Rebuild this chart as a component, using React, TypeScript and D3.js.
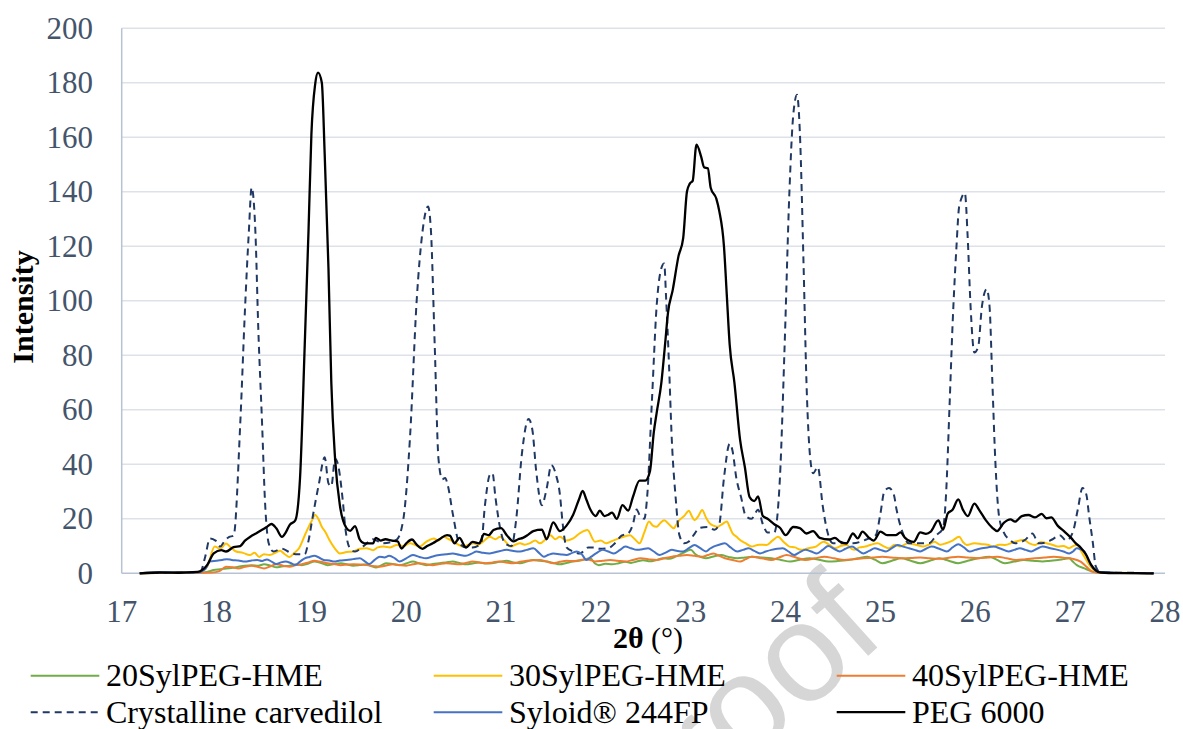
import React from 'react';
import * as d3 from 'd3';

// 2θ (°) vs intensity
const xTicks = [17, 18, 19, 20, 21, 22, 23, 24, 25, 26, 27, 28];
const yTicks = [0, 20, 40, 60, 80, 100, 120, 140, 160, 180, 200];

const syl20: [number, number][] = [
  [17.19,0],[17.5,0.2],[17.8,0.2],[17.9,0.5],[17.97,1.2],[18.04,1.5],[18.1,1.8],[18.17,2],[18.23,2.4],[18.3,2.8],[18.37,3],[18.44,2.8],[18.5,3.3],[18.57,2.8],[18.63,2.2],[18.7,2.6],[18.77,2.8],[18.84,3.2],[18.9,3],[18.97,3.6],[19.03,4.3],[19.1,3.8],[19.17,3],[19.24,3.4],[19.31,3.7],[19.38,3.2],[19.44,2.8],[19.51,3],[19.58,3.3],[19.63,2.7],[19.68,2.1],[19.74,3],[19.79,3.7],[19.86,3.4],[19.93,3],[20.0,3.6],[20.07,4.3],[20.14,3.6],[20.21,3],[20.28,3.4],[20.35,3.7],[20.42,4],[20.49,4.3],[20.56,3.8],[20.63,3.3],[20.7,3.6],[20.77,4],[20.84,3.6],[20.9,3.7],[20.98,4.2],[21.06,4.6],[21.13,4],[21.2,3.7],[21.27,4.3],[21.34,4.9],[21.41,4.6],[21.48,4.3],[21.55,3.8],[21.62,3.3],[21.69,3.8],[21.76,4.3],[21.85,4.8],[21.94,5.5],[21.99,3.6],[22.03,3],[22.1,3.5],[22.17,3.3],[22.24,3.7],[22.31,4.2],[22.37,3.8],[22.43,4.3],[22.5,4.8],[22.57,4.4],[22.64,4.9],[22.71,5.5],[22.77,5.3],[22.84,6.1],[22.92,7.5],[23.0,8.6],[23.05,7],[23.1,6],[23.16,5.5],[23.24,6.2],[23.32,6.7],[23.4,6],[23.49,5.5],[23.57,5.8],[23.65,6.1],[23.75,5.8],[23.85,5.5],[23.95,4.9],[24.05,4.3],[24.15,5],[24.25,5.5],[24.35,5],[24.45,4.3],[24.55,4.5],[24.66,4.9],[24.76,5.5],[24.86,6.1],[24.94,5],[25.02,3.7],[25.12,4.6],[25.22,5.5],[25.32,4.6],[25.42,3.7],[25.52,4.6],[25.62,5.5],[25.72,4.6],[25.82,3.7],[25.92,4.6],[26.03,5.5],[26.15,6.1],[26.23,4.9],[26.31,3.7],[26.41,4.3],[26.51,4.9],[26.61,4.6],[26.71,4.3],[26.79,4.6],[26.87,4.9],[26.93,5.2],[26.99,5.5],[27.03,4.2],[27.07,3],[27.15,1.8],[27.23,0.7],[27.3,0.2],[27.5,0.1],[27.88,0]
];

const syl30: [number, number][] = [
  [17.19,0],[17.5,0.3],[17.8,0.4],[17.9,2.4],[17.98,9.8],[18.04,9],[18.1,10.9],[18.15,9.5],[18.2,8.1],[18.28,7.5],[18.35,6.7],[18.4,7.5],[18.45,6],[18.5,7],[18.56,6.7],[18.62,7.5],[18.67,8.3],[18.72,7],[18.77,6],[18.82,7.5],[18.87,9.2],[18.94,14.7],[19.0,19],[19.04,21.4],[19.08,19.5],[19.11,17.1],[19.15,15],[19.19,12.2],[19.25,9],[19.3,7.3],[19.37,7.8],[19.44,8],[19.51,9],[19.58,9.2],[19.65,8.5],[19.7,9.5],[19.76,9.8],[19.83,9.5],[19.9,10.4],[19.97,10],[20.04,11],[20.09,10.5],[20.14,9.8],[20.21,11.5],[20.29,12.8],[20.34,12],[20.39,13.4],[20.45,12.5],[20.5,11.6],[20.55,10.5],[20.6,9.8],[20.66,10.5],[20.71,11],[20.76,10.5],[20.81,11.6],[20.88,13.4],[20.94,12.5],[20.99,13.4],[21.05,11.5],[21.1,9.8],[21.15,10.5],[21.2,11],[21.25,10.5],[21.3,11],[21.36,12],[21.41,11],[21.47,12.5],[21.52,14],[21.57,12.5],[21.62,13.4],[21.69,12],[21.76,12.8],[21.83,14.7],[21.91,15.9],[21.99,11.6],[22.05,12],[22.11,11],[22.18,12],[22.24,12.8],[22.3,13.5],[22.36,14],[22.41,12.5],[22.46,11],[22.51,15],[22.56,19],[22.6,17.5],[22.64,17.1],[22.68,18.5],[22.72,19.5],[22.77,18],[22.82,16.5],[22.85,18],[22.88,19.5],[22.93,21],[22.98,23],[23.01,21],[23.04,19.5],[23.08,21],[23.12,23.2],[23.16,20.5],[23.2,18.3],[23.24,17.5],[23.28,17.1],[23.33,18],[23.38,19],[23.41,17],[23.44,14.7],[23.48,13.5],[23.52,12.2],[23.58,11],[23.64,9.8],[23.72,10.5],[23.8,10.4],[23.86,12],[23.92,13.4],[23.98,11.5],[24.04,9.8],[24.1,9.5],[24.16,8.6],[24.24,9.2],[24.32,9.8],[24.4,11.6],[24.46,10.5],[24.52,9.2],[24.58,10],[24.64,10.4],[24.72,8.6],[24.78,9.5],[24.84,9.8],[24.9,10.5],[24.97,11],[25.03,10],[25.09,9.2],[25.15,10.5],[25.21,9.8],[25.29,11],[25.37,10.5],[25.45,9.8],[25.51,10.5],[25.57,11.6],[25.63,10.5],[25.69,11],[25.76,12],[25.83,13.4],[25.87,11.5],[25.91,10.4],[25.99,11],[26.07,10.7],[26.13,10.5],[26.19,9.8],[26.25,10.5],[26.31,10.4],[26.41,11.5],[26.51,12.2],[26.57,11],[26.63,10.4],[26.69,11.5],[26.75,11],[26.81,10.5],[26.87,9.8],[26.93,10],[26.99,9.2],[27.03,10],[27.07,10.4],[27.11,8.5],[27.15,6.1],[27.23,1.8],[27.29,0.4],[27.5,0.2],[27.88,0]
];

const syl40: [number, number][] = [
  [17.19,0],[17.5,0.2],[17.8,0.2],[17.95,0.3],[18.03,0.8],[18.1,2.4],[18.17,2.2],[18.23,1.8],[18.3,2.4],[18.37,2.8],[18.44,2.3],[18.5,1.8],[18.57,2.6],[18.63,3.3],[18.7,2.8],[18.77,2.4],[18.84,3],[18.9,3.3],[18.97,4],[19.03,4.6],[19.1,4.2],[19.17,3.7],[19.24,3.4],[19.31,3],[19.38,3.2],[19.44,3.3],[19.51,3.2],[19.58,3],[19.65,2.7],[19.72,2.4],[19.79,2.9],[19.86,3.3],[19.93,3],[20.0,2.8],[20.07,3.3],[20.14,3.7],[20.21,3.3],[20.28,3],[20.35,3.4],[20.42,3.7],[20.49,3.5],[20.56,3.3],[20.63,3.8],[20.7,4.3],[20.77,4],[20.84,3.7],[20.91,4],[20.98,4.3],[21.05,4],[21.13,3.7],[21.2,4.2],[21.27,4.6],[21.34,4.8],[21.41,4.9],[21.48,4.3],[21.55,3.7],[21.62,4.2],[21.69,4.6],[21.76,4.5],[21.83,4.8],[21.9,5.2],[21.94,4.9],[21.99,4.3],[22.07,4.6],[22.15,4.9],[22.23,4.6],[22.31,4.3],[22.39,4.9],[22.47,5.5],[22.55,5.2],[22.64,4.9],[22.72,5.5],[22.8,6.1],[22.88,6.4],[22.96,6.7],[23.04,6.4],[23.12,6.1],[23.18,6.7],[23.24,7.3],[23.3,6.4],[23.36,5.5],[23.44,4.9],[23.52,4.3],[23.58,5.2],[23.64,6.1],[23.75,5.5],[23.85,4.9],[23.93,5.8],[24.01,6.7],[24.11,5.8],[24.21,4.9],[24.31,5.5],[24.41,6.1],[24.51,5.5],[24.62,4.9],[24.72,5.2],[24.82,5.5],[24.92,5.8],[25.02,6.1],[25.12,5.8],[25.22,5.5],[25.32,5.6],[25.42,5.8],[25.52,5.5],[25.62,5.3],[25.72,5.7],[25.82,6.1],[25.92,5.8],[26.03,5.5],[26.13,5.8],[26.23,6.1],[26.33,5.5],[26.43,4.9],[26.53,5.2],[26.63,5.5],[26.73,5.8],[26.83,6.1],[26.93,5.7],[27.03,5.3],[27.11,4.3],[27.17,2.5],[27.23,0.6],[27.3,0.2],[27.5,0.1],[27.88,0]
];

const carvedilol: [number, number][] = [
  [17.19,0],[17.4,0.2],[17.6,0.3],[17.75,0.3],[17.83,0.6],[17.88,6],[17.93,12.8],[17.99,12],[18.04,9.8],[18.08,11.6],[18.13,13.3],[18.18,13.8],[18.25,55],[18.3,97],[18.34,125],[18.37,141.6],[18.41,125],[18.44,90],[18.48,55],[18.51,27],[18.55,11],[18.6,8],[18.69,9],[18.78,7.5],[18.85,7],[18.93,7],[18.97,12],[19.01,20],[19.08,33],[19.14,42.6],[19.18,33],[19.21,32],[19.25,42],[19.28,40],[19.33,27],[19.36,16],[19.41,9],[19.46,8],[19.55,10],[19.65,12.5],[19.75,11],[19.9,12.4],[19.97,20],[20.04,50],[20.11,100],[20.17,125],[20.23,134.6],[20.26,126],[20.3,84],[20.34,42],[20.38,34.5],[20.41,35],[20.44,32],[20.49,22],[20.56,11],[20.63,9.5],[20.7,9.5],[20.79,11],[20.83,25],[20.88,36],[20.91,36.7],[20.94,28],[20.99,16.6],[21.04,11],[21.11,10],[21.16,20],[21.22,44],[21.29,56.6],[21.33,52.6],[21.37,37.6],[21.43,25],[21.48,31],[21.53,39.7],[21.58,36],[21.62,29],[21.65,18],[21.69,9.5],[21.76,8],[21.83,7.3],[21.92,9.5],[21.99,9.5],[22.04,9],[22.13,9.2],[22.2,11],[22.27,13.8],[22.34,14.6],[22.39,18],[22.43,23.4],[22.46,21.4],[22.51,20],[22.54,28],[22.59,63],[22.64,98],[22.69,112],[22.72,113.7],[22.74,101],[22.77,77],[22.8,49],[22.84,28],[22.88,14],[22.93,11],[22.98,11.7],[23.03,14],[23.09,16.6],[23.18,17],[23.25,16],[23.3,18],[23.35,35],[23.41,47.5],[23.44,45],[23.48,35],[23.53,28],[23.58,21],[23.64,20],[23.71,23.3],[23.76,18],[23.81,15],[23.88,15],[23.94,35],[23.99,84],[24.04,140],[24.08,168],[24.12,175.6],[24.15,162],[24.19,112],[24.22,70],[24.26,42],[24.29,36.7],[24.34,39],[24.39,25],[24.44,15.3],[24.5,11],[24.6,11],[24.71,11],[24.85,12.4],[24.95,14],[25.0,22],[25.04,30],[25.09,31.3],[25.14,29],[25.17,23.3],[25.23,15.3],[25.3,11],[25.4,11],[25.51,11],[25.59,14],[25.66,16.6],[25.69,28],[25.73,63],[25.76,91],[25.8,119],[25.83,134.6],[25.89,139.5],[25.92,123],[25.95,98],[25.99,81],[26.03,83],[26.07,98],[26.12,104.3],[26.15,98],[26.18,70],[26.21,42],[26.25,21],[26.3,15],[26.36,12.4],[26.42,11],[26.53,12.4],[26.6,14.6],[26.67,11],[26.74,11.3],[26.81,12.4],[26.89,14],[26.96,12],[27.03,15.3],[27.08,23.3],[27.13,31.3],[27.17,29],[27.2,21],[27.24,11],[27.27,2.5],[27.32,0.3],[27.6,0.2],[27.88,0]
];

const syloid: [number, number][] = [
  [17.19,0],[17.4,0.4],[17.6,0.3],[17.8,0.3],[17.88,1.5],[17.93,4.3],[18.0,4.6],[18.06,4.9],[18.11,5.2],[18.16,4.9],[18.23,4.7],[18.3,4.3],[18.37,4.7],[18.43,4.9],[18.48,4.5],[18.53,5.1],[18.58,4.3],[18.63,3.4],[18.68,4],[18.73,4.3],[18.78,3.8],[18.83,3.1],[18.88,4.3],[18.93,5.5],[18.98,6],[19.03,6.4],[19.08,5.8],[19.13,4.9],[19.19,4.7],[19.24,4.3],[19.3,4.7],[19.37,4.9],[19.44,5.2],[19.51,5.5],[19.56,4.5],[19.61,3.4],[19.67,5],[19.72,6.1],[19.77,5.8],[19.82,6.4],[19.88,5.5],[19.93,4.3],[20.0,5.5],[20.07,6.7],[20.14,6],[20.21,5.5],[20.28,6.2],[20.35,6.7],[20.42,7],[20.49,7.3],[20.56,6.8],[20.63,6.4],[20.69,7.2],[20.74,8],[20.81,7.5],[20.88,7.3],[20.97,8],[21.06,8.6],[21.13,8.2],[21.2,8],[21.27,8.6],[21.34,9.2],[21.4,7.5],[21.45,6.1],[21.5,6.8],[21.55,7.3],[21.62,7],[21.69,6.7],[21.75,7.5],[21.8,8],[21.85,7],[21.9,4.9],[21.95,6.1],[22.01,7.5],[22.07,8.6],[22.13,8],[22.19,7.3],[22.25,8.5],[22.31,9.8],[22.37,9.2],[22.43,8.6],[22.49,8.8],[22.55,9.2],[22.61,8],[22.67,6.7],[22.73,7.5],[22.8,8.6],[22.86,8.2],[22.92,8],[22.98,9.2],[23.04,10.4],[23.1,9.2],[23.16,8],[23.2,9],[23.24,9.8],[23.3,10.5],[23.36,11],[23.42,9.5],[23.49,8],[23.55,8.6],[23.61,9.2],[23.67,8.2],[23.73,7.3],[23.79,8],[23.85,8.6],[23.91,9],[23.97,9.2],[24.03,8],[24.09,6.7],[24.15,7.8],[24.21,8.6],[24.27,8],[24.33,7.3],[24.39,8.6],[24.45,10],[24.51,9],[24.57,8],[24.63,9],[24.7,9.8],[24.76,8.5],[24.82,7.3],[24.88,8.2],[24.94,9.2],[25.0,8.6],[25.06,8],[25.12,9.2],[25.18,10.4],[25.24,9.8],[25.3,9.2],[25.36,8.6],[25.42,8],[25.48,9],[25.54,9.8],[25.62,9],[25.7,8],[25.76,9.5],[25.82,10.7],[25.88,9.5],[25.94,8],[26.0,8.6],[26.07,9.2],[26.13,9.5],[26.19,9.8],[26.27,9],[26.35,8],[26.41,8.6],[26.47,9.2],[26.53,8.6],[26.59,8],[26.65,9],[26.71,9.8],[26.79,9.2],[26.87,8.6],[26.93,8],[26.99,7.3],[27.03,8],[27.07,9.2],[27.11,8.8],[27.15,8],[27.19,5],[27.23,2.4],[27.29,0.6],[27.5,0.2],[27.88,0]
];

const peg6000: [number, number][] = [
  [17.19,0],[17.4,0.3],[17.6,0.2],[17.8,0.5],[17.9,3],[17.97,7.3],[18.05,8.5],[18.1,8],[18.18,9.6],[18.25,10],[18.3,12],[18.36,13.5],[18.42,14.7],[18.48,16],[18.53,17],[18.58,18.1],[18.63,16.5],[18.69,13.4],[18.73,15],[18.77,17.7],[18.83,19.4],[18.88,34.8],[18.93,84],[18.97,126],[19.0,161],[19.04,179.5],[19.07,183.7],[19.11,180],[19.14,154],[19.18,112],[19.21,70],[19.25,42],[19.3,25],[19.37,16.6],[19.41,15.6],[19.46,17.3],[19.51,12.4],[19.56,11],[19.65,11],[19.68,13],[19.73,12],[19.78,12.5],[19.85,12],[19.91,11.7],[19.95,9.1],[20.0,11],[20.06,12.4],[20.11,10.5],[20.17,9],[20.22,10],[20.28,11],[20.35,12.5],[20.43,14],[20.46,13.8],[20.51,11],[20.56,13],[20.63,9.5],[20.7,11.5],[20.77,11],[20.82,14.5],[20.87,14],[20.92,15.9],[21.0,16.6],[21.06,14],[21.13,11.7],[21.18,12.5],[21.23,13],[21.28,14],[21.34,15.5],[21.43,16],[21.48,12.5],[21.55,18.7],[21.62,15.5],[21.69,17.5],[21.76,21.5],[21.82,27],[21.86,30.2],[21.9,27],[21.94,23.5],[22.0,21],[22.04,23],[22.09,21],[22.13,21.5],[22.17,22.3],[22.22,20],[22.28,25],[22.34,23],[22.39,28],[22.46,34],[22.52,34],[22.57,37.5],[22.61,51.7],[22.64,58.8],[22.69,70],[22.73,84.4],[22.76,95.7],[22.81,104],[22.87,116.3],[22.92,123],[22.96,140.1],[22.99,143],[23.02,144],[23.06,157.3],[23.11,152.8],[23.14,149],[23.18,148.6],[23.21,141.5],[23.27,137.4],[23.3,133],[23.35,120],[23.38,102],[23.41,84],[23.46,70],[23.52,49],[23.57,39],[23.62,28],[23.67,26.5],[23.71,28.2],[23.76,21],[23.81,20],[23.88,18],[23.94,16.7],[24.0,14],[24.08,17],[24.15,16.6],[24.22,14.6],[24.29,15.5],[24.36,13],[24.46,12.4],[24.52,13],[24.57,11.7],[24.64,11],[24.71,14.6],[24.76,12.8],[24.81,15.3],[24.88,13],[24.93,12],[25.0,15.3],[25.07,14],[25.16,14],[25.21,15],[25.26,13],[25.35,11.5],[25.42,15],[25.48,14.5],[25.53,15.3],[25.61,19.4],[25.66,16],[25.71,22],[25.76,23.3],[25.82,27.1],[25.87,23.3],[25.92,21],[25.99,25.6],[26.04,23.3],[26.11,19.5],[26.18,16.7],[26.23,15.5],[26.3,18.5],[26.37,19.8],[26.42,19],[26.49,21],[26.56,21.4],[26.63,20.5],[26.7,21.8],[26.75,20.2],[26.8,20.5],[26.87,17.4],[26.94,15.3],[27.01,13],[27.06,11],[27.11,9.5],[27.17,6.7],[27.22,3.2],[27.27,1.1],[27.32,0.3],[27.5,0.1],[27.7,0.1],[27.88,0]
];

const seriesNames = ['20SylPEG-HME', '30SylPEG-HME', '40SylPEG-HME', 'Crystalline carvedilol', 'Syloid® 244FP', 'PEG 6000'];
const seriesData = [syl20, syl30, syl40, carvedilol, syloid, peg6000];
const seriesColors = ['#70AD47', '#FFC000', '#ED7D31', '#203864', '#4472C4', '#000000'];

const W = 1183;
const H = 729;
const left = 121.7, right = 1165, top = 28.3, bottom = 573.3;
const serif = '"Liberation Serif", "Times New Roman", serif';

export default function App() {
  const x = d3.scaleLinear().domain([17, 28]).range([left, right]);
  const y = d3.scaleLinear().domain([0, 200]).range([bottom, top]);
  const line = d3.line<[number, number]>()
    .x(d => x(d[0]))
    .y(d => y(d[1]))
    .curve(d3.curveMonotoneX);

  const dashOf = (i: number) => (i === 3 ? '7,5' : undefined);
  const widthOf = (i: number) => (i === 5 ? 2.3 : 2);

  return (
    <svg width={W} height={H} style={{ position: 'absolute', left: 0, top: 0, background: '#fff' }}>
      {/* watermark */}
      <text
        transform="translate(888,638) rotate(-42)"
        textAnchor="end"
        fontFamily='"Liberation Sans", Arial, sans-serif'
        fontSize={140}
        fill="#d6d6d6"
      >Proof</text>

      {/* gridlines */}
      {yTicks.filter(t => t > 0).map(t => (
        <line key={t} x1={left} x2={right} y1={y(t)} y2={y(t)} stroke="#DDE1E8" strokeWidth={1.5} />
      ))}
      <line x1={left} x2={left} y1={top} y2={bottom} stroke="#B7C2D4" strokeWidth={1.5} />
      <line x1={left} x2={right} y1={bottom} y2={bottom} stroke="#B7C2D4" strokeWidth={1.5} />

      {/* y tick labels */}
      {yTicks.map(t => (
        <text key={t} x={93} y={y(t) + 10.5} textAnchor="end" fontFamily={serif} fontSize={31} fill="#44546A">{t}</text>
      ))}
      {/* x tick labels */}
      {xTicks.map(t => (
        <text key={t} x={x(t)} y={621.5} textAnchor="middle" fontFamily={serif} fontSize={31} fill="#44546A">{t}</text>
      ))}

      {/* axis titles */}
      <text transform="translate(33,307) rotate(-90)" textAnchor="middle" fontFamily={serif} fontSize={30} fontWeight="bold" fill="#000">Intensity</text>
      <text x={648} y={648} textAnchor="middle" fontFamily={serif} fontSize={30} fill="#000">
        <tspan fontWeight="bold">2θ</tspan> (°)
      </text>

      {/* series */}
      {seriesData.map((d, i) => (
        <path key={seriesNames[i]} d={line(d) || ''} fill="none" stroke={seriesColors[i]}
          strokeWidth={widthOf(i)} strokeDasharray={dashOf(i)} strokeLinejoin="round" />
      ))}

      {/* legend */}
      {seriesNames.map((name, i) => {
        const col = i % 3;
        const row = Math.floor(i / 3);
        const lx = 30.7 + col * 403;
        const ly = 675.7 + row * 36.5;
        return (
          <g key={name}>
            <line x1={lx} x2={lx + 68.6} y1={ly} y2={ly} stroke={seriesColors[i]}
              strokeWidth={widthOf(i)} strokeDasharray={dashOf(i)} />
            <text x={lx + 75.3} y={ly + 10.3} fontFamily={serif} fontSize={32} fill="#000">{name}</text>
          </g>
        );
      })}
    </svg>
  );
}
